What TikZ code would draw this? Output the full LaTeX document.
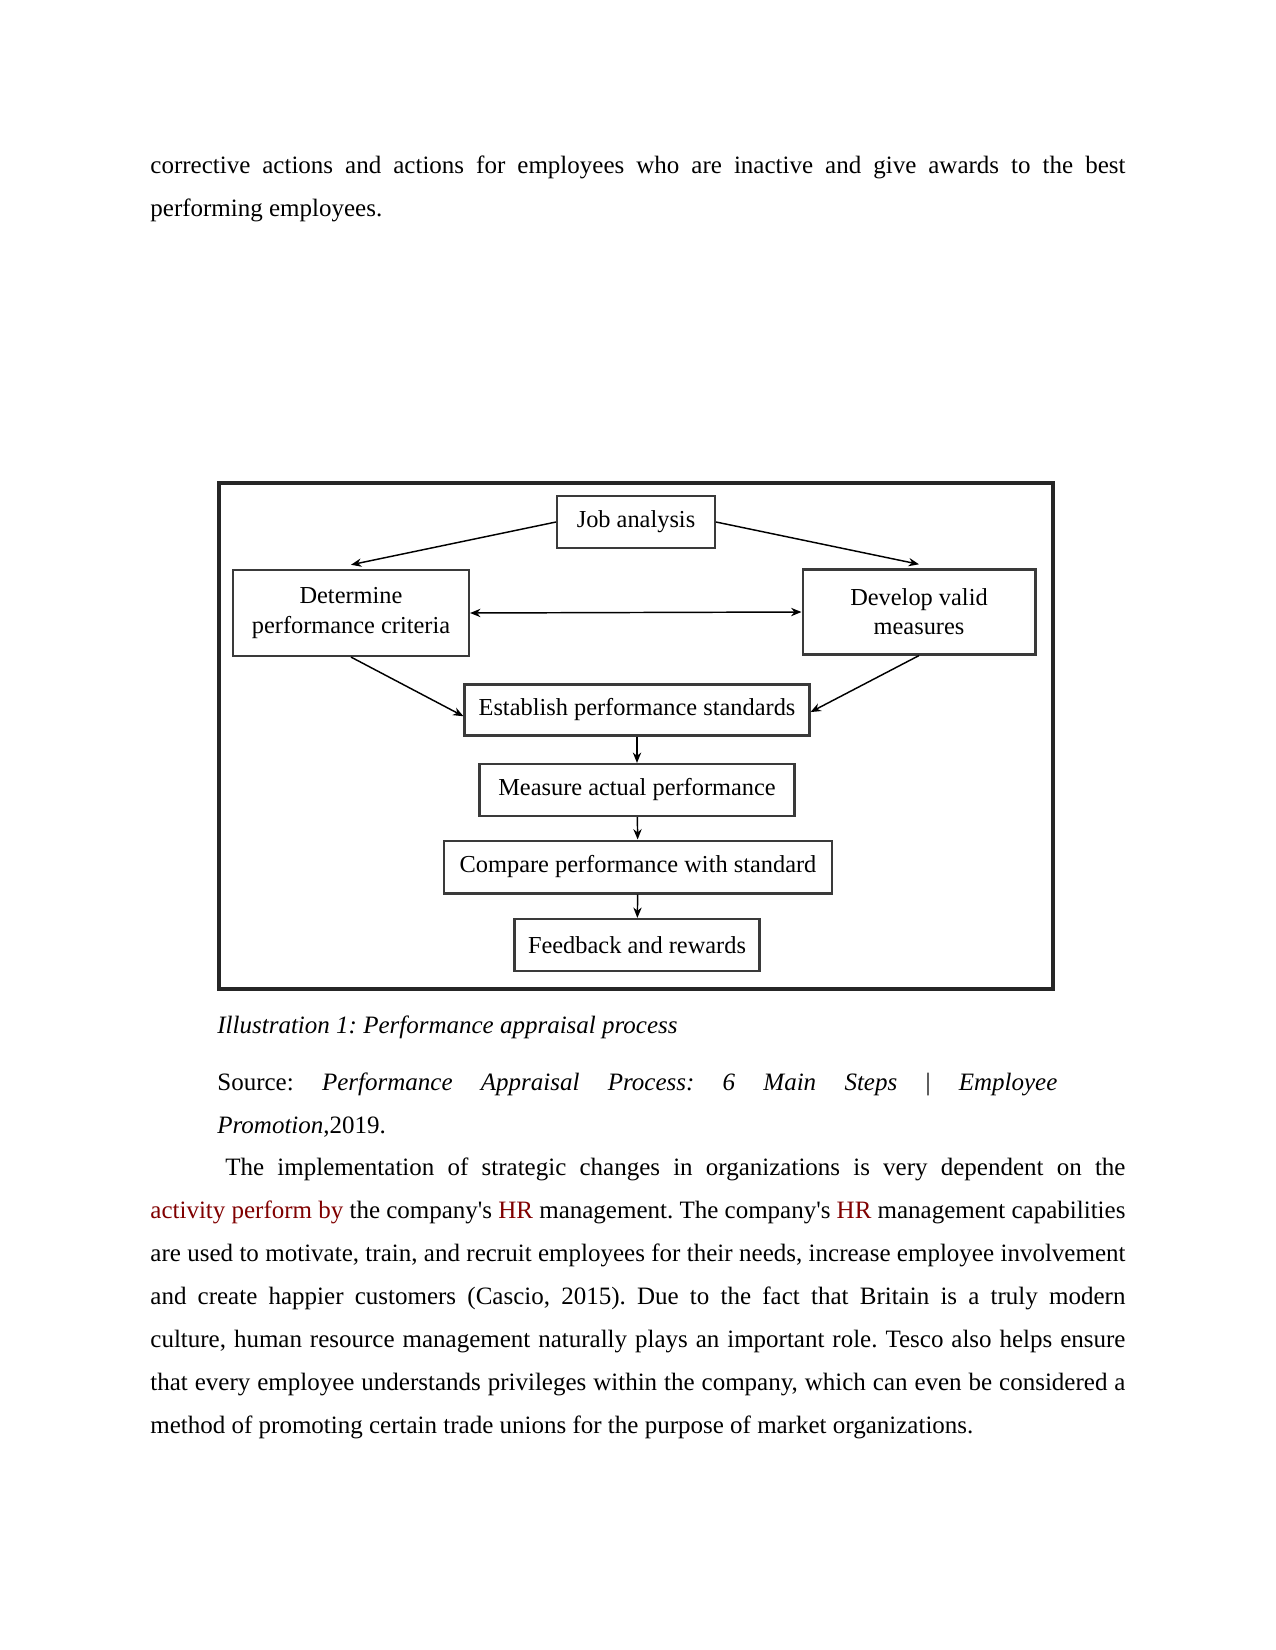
\documentclass[tikz,border=0pt]{standalone}
\usepackage{fontspec}
\setmainfont{Liberation Serif}[Ligatures=TeXOff]
\usetikzlibrary{arrows.meta}
\definecolor{hrred}{HTML}{800000}
\definecolor{boxgray}{HTML}{3A3A3A}

\begin{document}
\frenchspacing
\begin{tikzpicture}[x=0.48pt, y=-0.48pt,
    stepbox/.style={rectangle, draw=boxgray, line width=1pt, inner sep=0pt,
                    align=center, font=\fontsize{11.7}{14}\selectfont},
    flow/.style={-{Stealth[length=5pt, width=4pt]}, line width=0.7pt},
    bodytext/.style={anchor=base west, inner sep=0pt, align=justify,
                     font=\fontsize{12}{20.7}\selectfont}]
  \useasboundingbox (0,0) rectangle (1275,1650);

  % text above the figure
  \node[bodytext, text width=468pt] (intro) at (150,173.5)
    {\tolerance=10000 corrective actions and actions for employees who are inactive and give awards to the best\linebreak
     performing employees.};

  % the figure and its frame
  \draw[line width=1.5pt, black!85] (219,483) rectangle (1053,989);

  \node[stepbox, minimum width=75.8pt, minimum height=25pt] (job) at (636,522) {Job analysis};
  \node[stepbox, minimum width=113.3pt, minimum height=41.3pt] (crit) at (351,613)
    {Determine\\performance criteria};
  \node[stepbox, minimum width=111.8pt, minimum height=40.8pt] (meas) at (919,612)
    {Develop valid\\measures};
  \node[stepbox, minimum width=165.6pt, minimum height=24.5pt] (stand) at (637,710)
    {Establish performance standards};
  \node[stepbox, minimum width=151.2pt, minimum height=25pt] (actual) at (637,790)
    {Measure actual performance};
  \node[stepbox, minimum width=186.2pt, minimum height=25.4pt] (compare) at (638,867)
    {Compare performance with standard};
  \node[stepbox, minimum width=117.6pt, minimum height=25pt] (reward) at (637,945)
    {Feedback and rewards};

  \draw[flow] (job.west) -- ([yshift=2pt]crit.north);
  \draw[flow] (job.east) -- ([yshift=2pt]meas.north);
  \draw[flow, {Stealth[length=5pt, width=4pt]}-{Stealth[length=5pt, width=4pt]}] (crit.east) -- (meas.west);
  \draw[flow] (crit.south) -- ([yshift=-3pt]stand.west);
  \draw[flow] (meas.south) -- ([yshift=-1pt]stand.east);
  \draw[flow] (stand) -- (actual);
  \draw[flow] (actual) -- (compare);
  \draw[flow] (compare) -- (reward);

  % caption and source
  \node[bodytext] (caption) at (217,1033)
    {\itshape Illustration 1: Performance appraisal process};
  \node[bodytext, text width=403.2pt] (source) at (217,1090)
    {\tolerance=10000 Source: \textit{Performance Appraisal Process: 6 Main Steps {\upshape|} Employee}\linebreak
     \textit{Promotion},2019.};

  % text below the figure
  \node[bodytext, text width=468pt] (body) at (150,1175)
    {\tolerance=10000 \hspace*{36pt}The implementation of strategic changes in organizations is very dependent on the\linebreak
     \textcolor{hrred}{activity perform by} the company's \textcolor{hrred}{HR} management. The company's \textcolor{hrred}{HR} management capabilities\linebreak
     are used to motivate, train, and recruit employees for their needs, increase employee involvement\linebreak
     and create happier customers (Cascio, 2015). Due to the fact that Britain is a truly modern\linebreak
     culture, human resource management naturally plays an important role. Tesco also helps ensure\linebreak
     that every employee understands privileges within the company, which can even be considered a\linebreak
     method of promoting certain trade unions for the purpose of market organizations.};
\end{tikzpicture}
\end{document}
